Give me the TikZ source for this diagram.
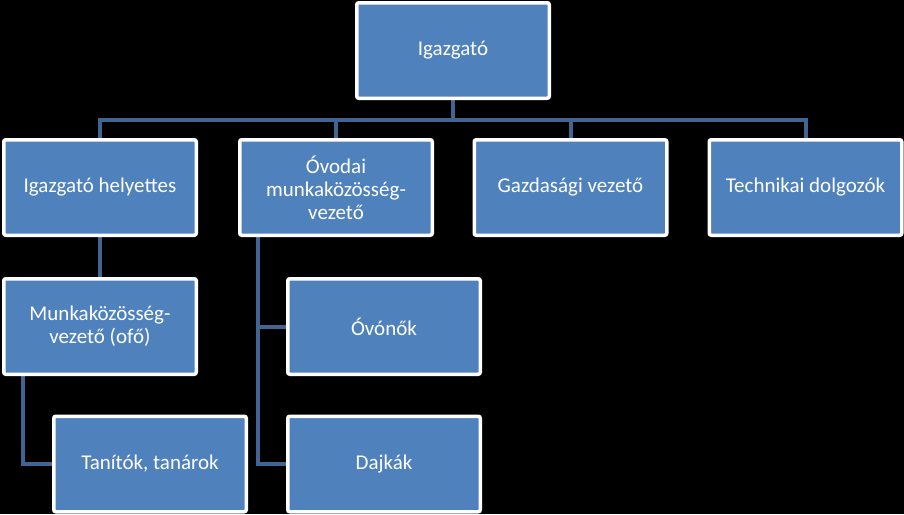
\documentclass[tikz,border=0pt]{standalone}
\usepackage{fontspec}
\setmainfont{Carlito}
\usepackage{xcolor}
\usetikzlibrary{positioning}

\definecolor{boxblue}{RGB}{79,129,189}
\definecolor{linkblue}{RGB}{64,101,146}

\pgfdeclarelayer{backdrop}
\pgfdeclarelayer{links}
\pgfsetlayers{backdrop,links,main}

\begin{document}
\begin{tikzpicture}[x=1pt,y=-1pt,
		orgbox/.style={draw=white, line width=3.5pt, fill=boxblue, rounded corners=2pt,
			minimum width=192.5pt, minimum height=95.5pt, text=white, align=center,
			font=\fontsize{21}{23}\selectfont},
		link/.style={linkblue, line width=4pt}]
				\begin{pgfonlayer}{backdrop}
				\fill[black] (0,0) rectangle (904,514);
				\end{pgfonlayer}
				\useasboundingbox (0,0) rectangle (904,514);
				
				\node[orgbox] (igazgato) at (453,50.5) {Igazgató};
				\node[orgbox] (helyettes) at (100,187.5) {Igazgató helyettes};
				\node[orgbox] (ovodai) at (336,187.5) {Óvodai\\munkaközösség-\\vezető};
				\node[orgbox] (gazdasagi) at (570.5,187.5) {Gazdasági vezető};
				\node[orgbox] (technikai) at (805.5,187.5) {Technikai dolgozók};
				\node[orgbox] (munka) at (100,326.5) {Munkaközösség-\\vezető (ofő)};
				\node[orgbox] (tanitok) at (150,464) {Tanítók, tanárok};
				\node[orgbox] (ovonok) at (384,326.5) {Óvónők};
				\node[orgbox] (dajkak) at (384,464) {Dajkák};
				
				% connectors behind the boxes
				\coordinate (bus) at (igazgato.south |- 0,120);
				\coordinate (rail1) at (23,0);
				\coordinate (rail2) at (258,0);
				\begin{pgfonlayer}{links}
				\draw[link] (igazgato.center) -- (bus);
				\draw[link] (helyettes.center) |- (bus) -| (technikai.center);
				\draw[link] (ovodai.center) -- (ovodai.center |- bus);
				\draw[link] (gazdasagi.center) -- (gazdasagi.center |- bus);
				\draw[link] (helyettes.center) -- (munka.center);
				\draw[link] (munka.center -| rail1) |- (tanitok.center);
				\draw[link] (ovodai.center -| rail2) |- (dajkak.center);
				\draw[link] (ovonok.center -| rail2) -- (ovonok.center);
				\end{pgfonlayer}
			\end{tikzpicture}
\end{document}
